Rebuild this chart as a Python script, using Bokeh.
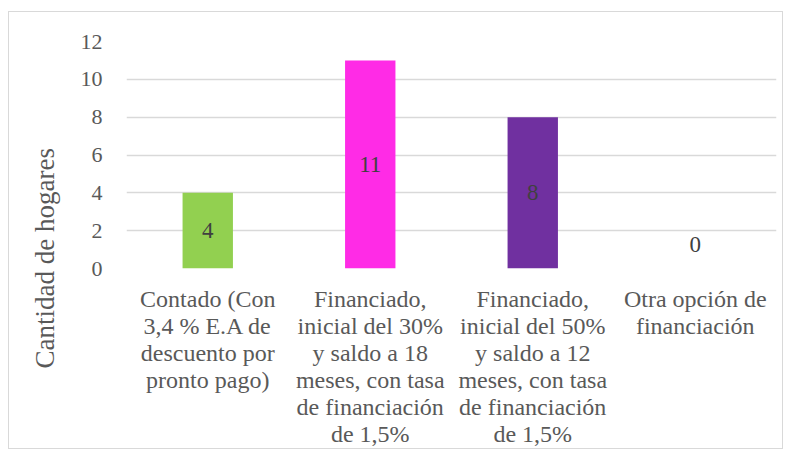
from bokeh.plotting import figure
from bokeh.models import ColumnDataSource, FactorRange, FixedTicker, Title
from bokeh.embed import file_html
from bokeh.resources import INLINE

# ---- data ----
categories = [
    "Contado (Con\n3,4 % E.A de\ndescuento por\npronto pago)",
    "Financiado,\ninicial del 30%\ny saldo a 18\nmeses, con tasa\nde financiación\nde 1,5%",
    "Financiado,\ninicial del 50%\ny saldo a 12\nmeses, con tasa\nde financiación\nde 1,5%",
    "Otra opción de\nfinanciación",
]
values = [4, 11, 8, 0]
colors = ["#92D050", "#FF2BE6", "#7030A0", "#A5A5A5"]
y_ticks = [0, 2, 4, 6, 8, 10, 12]
y_title = "Cantidad de hogares"

FONT = "'Liberation Serif', 'Times New Roman', serif"
TXT = "#595959"

p = figure(
    x_range=FactorRange(factors=categories, range_padding=0),
    y_range=(0, 12),
    width=775, height=438,
    output_backend="svg", toolbar_location=None,
    min_border_left=116, min_border_right=8, min_border_top=29, min_border_bottom=182,
)
p.styles = {"border": "1px solid #D9D9D9", "margin-top": "11px", "margin-left": "8px"}
p.outline_line_color = None
p.background_fill_color = "white"
p.border_fill_color = "white"

src = ColumnDataSource(dict(
    cat=categories, val=values, color=colors,
    lab=[str(v) for v in values],
    ly=[v / 2 for v in values],
    off=[-24 if v == 0 else 0 for v in values],
))
p.vbar(x="cat", top="val", width=0.31, fill_color="color", line_color=None, source=src)
p.text(x="cat", y="ly", text="lab", y_offset="off", source=src,
       text_align="center", text_baseline="middle",
       text_font={"value": FONT}, text_font_size="23px", text_color="#404040")

# grid
p.xgrid.grid_line_color = None
p.ygrid.grid_line_color = "#D9D9D9"
p.ygrid.grid_line_width = 1.3
p.ygrid.ticker = FixedTicker(ticks=y_ticks)

# y axis
p.yaxis.ticker = FixedTicker(ticks=y_ticks)
p.yaxis.axis_line_color = None
p.yaxis.major_tick_line_color = None
p.yaxis.minor_tick_line_color = None
p.yaxis.major_tick_out = 0
p.yaxis.major_tick_in = 0
p.yaxis.minor_tick_out = 0
p.yaxis.axis_label_standoff = 0
p.yaxis.major_label_text_font = FONT
p.yaxis.major_label_text_font_size = "22px"
p.yaxis.major_label_text_color = TXT
p.yaxis.major_label_standoff = 24

# y title, placed lower like the original (centred on whole chart height)
p.add_layout(Title(text=y_title, align="left", offset=-100, standoff=36,
                   text_font=FONT, text_font_size="27px", text_font_style="normal",
                   text_color=TXT), "left")

# x axis
p.xaxis.axis_line_color = None
p.xaxis.major_tick_line_color = None
p.xaxis.minor_tick_line_color = None
p.xaxis.major_label_text_font = FONT
p.xaxis.major_label_text_font_size = "24px"
p.xaxis.major_label_text_color = TXT
p.xaxis.major_label_text_line_height = 1.04
p.xaxis.major_label_standoff = 11
p.xaxis.major_label_text_align = "center"

open("out.html", "w").write(file_html(p, INLINE))
